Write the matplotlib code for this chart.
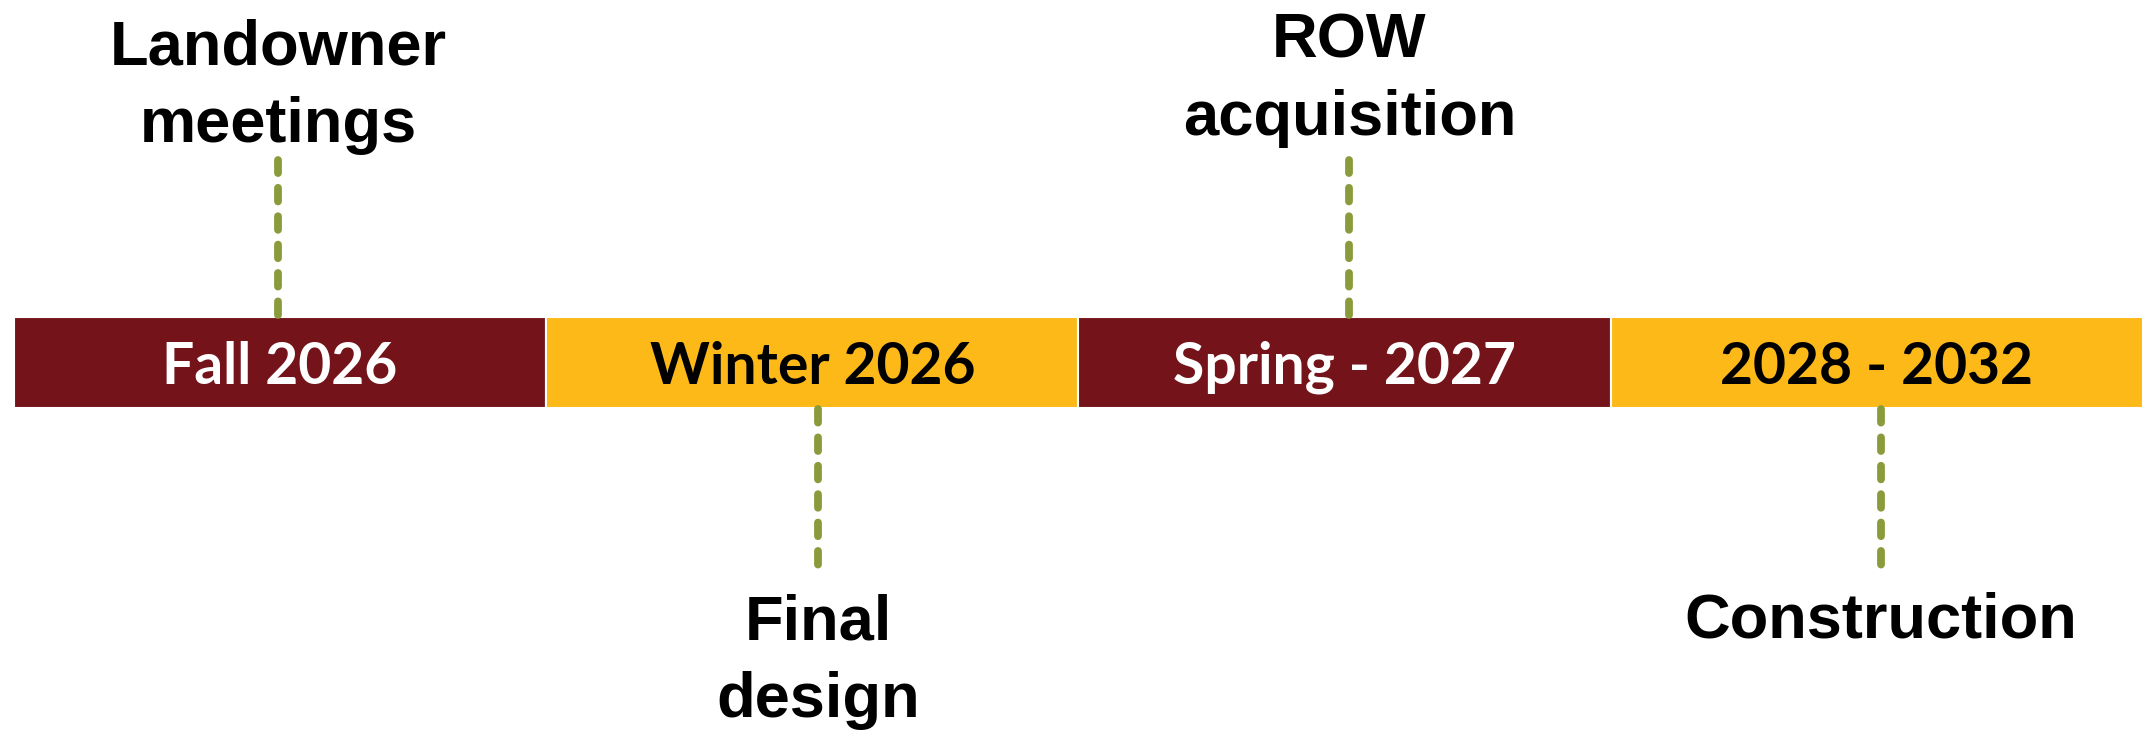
import matplotlib.pyplot as plt

# timeline periods, one bar segment each
periods = ['Fall 2026', 'Winter 2026', 'Spring - 2027', '2028 - 2032']
period_colors = ['#74141A', '#FCB918', '#74141A', '#FCB918']
period_text_colors = ['white', 'black', 'white', 'black']

# milestones attached to each period (above or below the bar)
milestones = ['Landowner\nmeetings', 'Final\ndesign', 'ROW\nacquisition', 'Construction']
milestone_pos = [0.496, 1.511, 2.509, 3.508]   # in period units
milestone_side = ['above', 'below', 'above', 'below']

BAR_TOP, BAR_BOT = 317, 408
GREEN = '#8A9B3C'
# baseline (of the last line) for each milestone label, in pixels from top
label_base = [142, 717, 135, 638]

fig = plt.figure(figsize=(21.45, 7.31), dpi=100)
ax = fig.add_axes([0, 0, 1, 1])
ax.set_xlim(-0.0263, 4.0038)
ax.set_ylim(731, 0)
ax.axis('off')

x = list(range(len(periods)))
ax.barh([(BAR_TOP + BAR_BOT) / 2] * len(periods), [1] * len(periods), left=x,
        height=BAR_BOT - BAR_TOP, color=period_colors, edgecolor='white', linewidth=1.5)

for i, (p, tc) in enumerate(zip(periods, period_text_colors)):
    ax.text(i + 0.5, (BAR_TOP + BAR_BOT) / 2 + 5, p, color=tc, ha='center', va='center',
            fontsize=41, fontweight='bold', family='Lato')

dash = (0, (1.75, 1.9))
for i, (m, side) in enumerate(zip(milestones, milestone_side)):
    cx = milestone_pos[i]
    if side == 'above':
        # drawn from the bar upward so the dashes sit on the bar
        ax.plot([cx, cx], [BAR_TOP - 2, 160], color=GREEN, lw=5.6, ls=dash,
                dash_capstyle='round', zorder=3)
    else:
        ax.plot([cx, cx], [BAR_BOT + 1, 565], color=GREEN, lw=5.6, ls=dash,
                dash_capstyle='round', zorder=3)
    ax.text(cx, label_base[i], m, ha='center', va='baseline', fontsize=45.5,
            fontweight='bold', family='Liberation Sans', linespacing=1.4)

plt.savefig('out.png', dpi=100)
